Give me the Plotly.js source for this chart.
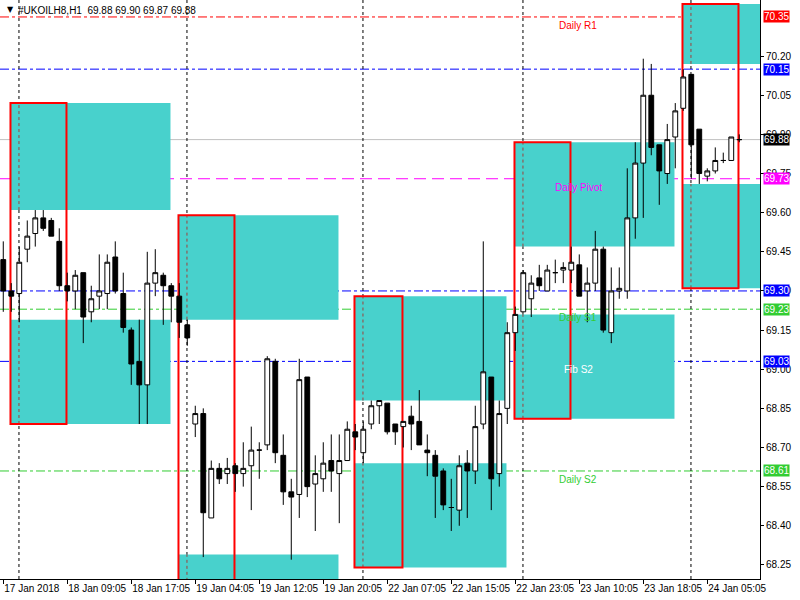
<!DOCTYPE html>
<html><head><meta charset="utf-8">
<script src="https://cdn.plot.ly/plotly-3.0.1.min.js"></script>
<style>html,body{margin:0;padding:0;background:#fff}#chart{width:800px;height:600px}</style>
</head><body><div id="chart"></div>
<script>
// ---- candle data (H1 bars, index 0 = first visible bar) ----
const openP = [69.42,69.30,69.29,69.46,69.52,69.58,69.57,69.49,69.32,69.30,69.37,69.22,69.28,69.29,69.43,69.29,69.15,69.03,68.94,69.33,
69.36,69.32,69.28,69.17,68.79,68.83,68.43,68.62,68.60,68.63,68.60,68.63,68.69,68.71,69.03,68.67,68.53,68.52,68.97,68.56,
68.58,68.65,68.60,68.65,68.76,68.68,68.79,68.86,68.87,68.79,68.78,68.82,68.80,68.69,68.67,68.61,68.47,68.46,68.64,68.61,
68.79,68.97,68.60,68.85,69.14,69.22,69.27,69.35,69.30,69.37,69.38,69.38,69.40,69.30,69.33,69.46,69.14,69.30,69.30,69.58,
69.79,70.05,69.86,69.75,69.89,70.00,70.13,69.92,69.74,69.76,69.80,69.80,69.88];
const highP = [69.49,69.33,69.47,69.57,69.61,69.61,69.58,69.54,69.37,69.38,69.37,69.32,69.44,69.44,69.49,69.37,69.16,69.19,69.45,69.46,
69.37,69.33,69.33,69.19,68.86,68.85,68.65,68.64,68.66,68.64,68.72,68.78,68.72,69.05,69.04,68.75,68.58,69.04,68.97,68.67,
68.72,68.75,68.75,68.80,68.79,68.80,68.88,68.88,68.87,68.79,68.80,68.86,68.92,68.75,68.69,68.62,68.58,68.67,68.69,68.86,
69.49,68.97,68.88,69.18,69.24,69.38,69.36,69.40,69.40,69.42,69.41,69.47,69.44,69.39,69.53,69.47,69.39,69.39,69.77,69.87,
70.19,70.17,69.86,69.94,70.02,70.15,70.13,69.92,69.77,69.85,69.83,69.89,69.90];
const lowP = [69.22,69.22,69.18,69.41,69.47,69.53,69.51,69.30,69.26,69.23,69.10,69.18,69.23,69.23,69.29,69.14,68.94,68.79,68.79,69.28,
69.17,69.18,69.12,69.09,68.74,68.28,68.43,68.56,68.56,68.53,68.55,68.46,68.58,68.69,68.64,68.48,68.27,68.43,68.51,68.38,
68.53,68.53,68.41,68.65,68.69,68.64,68.77,68.79,68.75,68.71,68.70,68.69,68.71,68.59,68.43,68.46,68.38,68.40,68.43,68.56,
68.77,68.46,68.55,68.79,69.07,69.22,69.20,69.30,69.30,69.33,69.33,69.33,69.28,69.18,69.30,69.14,69.10,69.27,69.27,69.50,
69.58,69.82,69.63,69.71,69.77,69.99,69.73,69.71,69.72,69.75,69.79,69.80,69.87];
const closeP = [69.30,69.28,69.41,69.51,69.58,69.54,69.51,69.32,69.30,69.36,69.20,69.27,69.30,69.41,69.30,69.16,69.02,68.94,69.33,69.37,
69.32,69.28,69.18,69.12,68.83,68.45,68.62,68.58,68.62,68.60,68.62,68.69,68.69,69.04,68.68,68.53,68.51,68.96,68.55,68.60,
68.64,68.61,68.65,68.77,68.74,68.77,68.86,68.88,68.76,68.76,68.80,68.79,68.71,68.68,68.59,68.48,68.47,68.63,68.61,68.78,
68.99,68.58,68.83,69.14,69.21,69.37,69.33,69.32,69.38,69.37,69.39,69.41,69.28,69.33,69.46,69.15,69.30,69.31,69.58,69.79,
70.05,69.85,69.76,69.88,69.99,70.12,69.86,69.75,69.76,69.80,69.80,69.89,69.88];
const barIndex = openP.map((_, i) => i);

// ---- time axis labels ----
const tickBars = [0, 8, 16, 24, 32, 40, 48, 56, 64, 72, 80, 88];
const tickLabels = ["17 Jan 2018","18 Jan 09:05","18 Jan 17:05","19 Jan 04:05","19 Jan 12:05","19 Jan 20:05",
  "22 Jan 07:05","22 Jan 15:05","22 Jan 23:05","23 Jan 10:05","23 Jan 18:05","24 Jan 05:05"];

// ---- price axis ----
const priceTicks = [68.25,68.40,68.55,68.70,68.85,69.00,69.15,69.30,69.45,69.60,69.75,69.90,70.05,70.20];

// ---- daily zones ----
const zoneStart = [1, 22, 44, 64, 85];
const zoneRedEnd = [8, 29, 50, 71, 92];
const zoneCyanEnd = [21, 42, 63, 84, 100];
const zoneTop = [70.02, 69.59, 69.28, 69.87, 70.40];
const zoneUpperBottom = [69.61, 69.19, 68.88, 69.47, 70.17];
const zoneLowerTop = [69.19, 68.29, 68.64, 69.21, 69.71];
const zoneBottom = [68.79, 67.89, 68.24, 68.81, 69.31];

// ---- day separators ----
const separatorBars = [2, 23, 45, 65, 86];

// ---- horizontal levels ----
const levelPrices = [70.35, 70.15, 69.88, 69.73, 69.30, 69.23, 69.03, 68.61];
const levelColors = ["#FF0000","#0000FF","#C0C0C0","#FF00FF","#0000FF","#32CD32","#0000FF","#32CD32"];
const levelTagColors = ["#FF0000","#0000FF","#000000","#FF00FF","#0000FF","#32CD32","#0000FF","#32CD32"];
const levelDash = ["9px,3px,3px,3px","9px,3px,3px,3px","solid","12px,6px","9px,3px,3px,3px","9px,3px,3px,3px","9px,3px,3px,3px","9px,3px,3px,3px"];

// ---- level text labels ----
const textNames = ["Daily R1", "Daily Pivot", "Daily S1", "Fib S2", "Daily S2"];
const textPrices = [70.35, 69.73, 69.23, 69.03, 68.61];
const textColors = ["#FF0000", "#FF00FF", "#32CD32", "#FFFFFF", "#32CD32"];
const textBar = 71.9;

const FONT = "Liberation Sans, Arial, sans-serif";
const CYAN = "#48D1CC";

const shapes = [];
// cyan zones
for (let i = 0; i < zoneStart.length; i++) {
  shapes.push({type:"rect", layer:"below", xref:"x", yref:"y", x0:zoneStart[i]-0.1, x1:zoneCyanEnd[i]-0.1,
    y0:zoneUpperBottom[i], y1:zoneTop[i], fillcolor:CYAN, line:{width:0}});
  shapes.push({type:"rect", layer:"below", xref:"x", yref:"y", x0:zoneStart[i]-0.1, x1:zoneCyanEnd[i]-0.1,
    y0:zoneBottom[i], y1:zoneLowerTop[i], fillcolor:CYAN, line:{width:0}});
}
// horizontal levels (white under-line to mimic gaps)
for (let i = 0; i < levelPrices.length; i++) {
  if (levelDash[i] !== "solid") {
    shapes.push({type:"line", layer:"below", xref:"paper", yref:"y", x0:0, x1:1, y0:levelPrices[i], y1:levelPrices[i],
      line:{color:"#FFFFFF", width:1}});
  }
  shapes.push({type:"line", layer:"below", xref:"paper", yref:"y", x0:0, x1:1, y0:levelPrices[i], y1:levelPrices[i],
    line:{color:levelColors[i], width:1, dash:levelDash[i]}});
}
// separators
for (let s = 0; s < separatorBars.length; s++) {
  const xb = separatorBars[s] - 0.04;
  shapes.push({type:"line", layer:"below", xref:"x", yref:"paper", x0:xb, x1:xb, y0:0, y1:1,
    line:{color:"#000000", width:1, dash:"3px,3px"}});
  for (let i = 0; i < zoneStart.length; i++) {
    if (separatorBars[s] > zoneStart[i] && separatorBars[s] < zoneCyanEnd[i]) {
      [[zoneUpperBottom[i], zoneTop[i]], [zoneBottom[i], zoneLowerTop[i]]].forEach(function (r) {
        shapes.push({type:"line", layer:"below", xref:"x", yref:"y", x0:xb, x1:xb, y0:r[0], y1:r[1],
          line:{color:CYAN, width:1}});
        shapes.push({type:"line", layer:"below", xref:"x", yref:"y", x0:xb, x1:xb, y0:r[0], y1:r[1],
          line:{color:"#A0403C", width:1, dash:"3px,3px"}});
      });
    }
  }
}
// red outlines
for (let i = 0; i < zoneStart.length; i++) {
  shapes.push({type:"rect", layer:"below", xref:"x", yref:"y", x0:zoneStart[i]-0.1, x1:zoneRedEnd[i]-0.1,
    y0:zoneBottom[i], y1:zoneTop[i], fillcolor:"rgba(0,0,0,0)", line:{color:"#FF0000", width:2}});
}

const annotations = [];
// price tags on right axis
for (let i = 0; i < levelPrices.length; i++) {
  annotations.push({xref:"paper", yref:"y", x:1, y:levelPrices[i], xanchor:"left", yanchor:"middle", xshift:3,
    text:levelPrices[i].toFixed(2), showarrow:false, bgcolor:levelTagColors[i], borderpad:0,
    font:{family:FONT, size:10, color:"#FFFFFF"}});
}
// level texts
for (let i = 0; i < textNames.length; i++) {
  annotations.push({xref:"x", yref:"y", x:textBar, y:textPrices[i], xanchor:"center", yanchor:"top", yshift:-1,
    text:textNames[i], showarrow:false, font:{family:FONT, size:10, color:textColors[i]}});
}
// header
annotations.push({xref:"paper", yref:"paper", x:0, y:1, xanchor:"left", yanchor:"top", xshift:5, yshift:-3,
  text:"▼", showarrow:false, font:{family:"DejaVu Sans, sans-serif", size:8, color:"#000"}});
annotations.push({xref:"paper", yref:"paper", x:0, y:1, xanchor:"left", yanchor:"top", xshift:16, yshift:-3,
  text:"#UKOILH8,H1\u00a0\u00a0" + [openP[92], highP[92], lowP[92], closeP[92]].map(v => v.toFixed(2)).join(" "),
  showarrow:false, font:{family:FONT, size:10, color:"#000"}});

const trace = {
  type:"candlestick", x:barIndex, open:openP, high:highP, low:lowP, close:closeP,
  increasing:{line:{color:"#000000", width:1}, fillcolor:"#FFFFFF"},
  decreasing:{line:{color:"#000000", width:1}, fillcolor:"#000000"},
  whiskerwidth:0, hoverinfo:"skip", showlegend:false
};

const layout = {
  width:800, height:600,
  margin:{l:0, r:40, t:0, b:21, pad:0},
  paper_bgcolor:"#FFFFFF", plot_bgcolor:"#FFFFFF",
  showlegend:false, boxgap:0.4, boxgroupgap:0,
  font:{family:FONT, size:10, color:"#000"},
  xaxis:{range:[-0.41, 94.59], rangeslider:{visible:false}, showgrid:false, zeroline:false,
    showline:true, linecolor:"#000", linewidth:1, ticks:"outside", ticklen:4, tickcolor:"#000",
    tickmode:"array", tickvals:tickBars, ticktext:tickLabels, ticklabelposition:"outside right",
    tickangle:0, automargin:false,
    tickfont:{family:FONT, size:10, color:"#000"}, fixedrange:true},
  yaxis:{side:"right", range:[68.196, 70.415], showgrid:false, zeroline:false,
    showline:true, linecolor:"#000", linewidth:1, ticks:"outside", ticklen:3, tickcolor:"#000",
    tickmode:"array", tickvals:priceTicks, ticktext:priceTicks.map(v => v.toFixed(2)), automargin:false,
    tickfont:{family:FONT, size:10, color:"#000"}, fixedrange:true},
  shapes:shapes, annotations:annotations
};

Plotly.newPlot("chart", [trace], layout, {staticPlot:true, displayModeBar:false});
</script>
</body></html>
